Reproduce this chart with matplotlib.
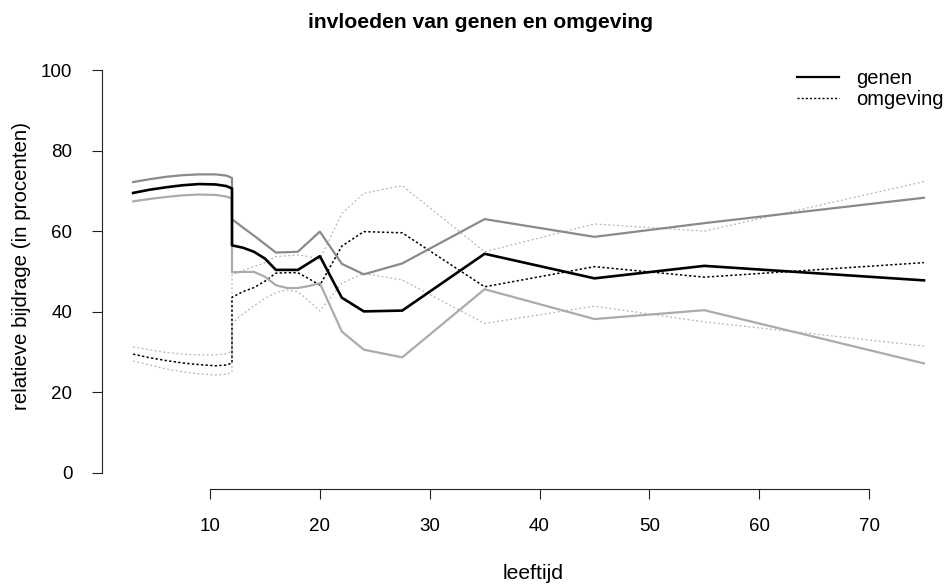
import matplotlib
matplotlib.use("Agg")
import matplotlib.pyplot as plt
from matplotlib.lines import Line2D

# ---- data ----
# age (leeftijd); first segment 3-12 (curved), then a jump at 12
leeftijd = [3, 4.5, 6, 7.5, 9, 10.5, 11.5, 12,
            12, 13, 14, 15, 16, 17, 18, 19, 20, 22, 24, 27.5, 35, 45, 55, 75]

genen = [69.5, 70.3, 70.9, 71.4, 71.7, 71.6, 71.2, 70.6,
         56.5, 55.9, 54.9, 53.2, 50.4, 50.4, 50.4, 52.1, 53.8, 43.5, 40.1, 40.3, 54.4, 48.3, 51.4, 47.8]
genen_hoog = [72.2, 72.9, 73.5, 73.9, 74.1, 74.1, 73.8, 73.2,
              63.0, 60.9, 58.9, 56.8, 54.7, 54.8, 54.9, 57.4, 59.9, 51.9, 49.3, 52.0, 63.0, 58.6, 62.0, 68.3]
genen_laag = [67.4, 68.0, 68.5, 68.9, 69.1, 69.0, 68.6, 68.1,
              49.8, 49.9, 49.9, 48.7, 46.6, 45.9, 45.9, 46.4, 47.1, 35.1, 30.6, 28.7, 45.6, 38.2, 40.4, 27.2]

omgeving = [29.5, 28.6, 27.9, 27.3, 26.9, 26.6, 26.8, 27.3,
            43.6, 45.0, 46.0, 47.6, 49.6, 49.7, 49.7, 48.2, 46.6, 56.3, 59.9, 59.6, 46.2, 51.2, 48.6, 52.2]
omgeving_hoog = [31.3, 30.6, 29.9, 29.5, 29.3, 29.3, 29.6, 30.3,
                 49.2, 50.3, 51.2, 52.2, 53.7, 53.9, 54.1, 53.7, 53.0, 64.4, 69.4, 71.3, 54.9, 61.8, 60.0, 72.3]
omgeving_laag = [27.8, 26.8, 25.8, 25.1, 24.6, 24.3, 24.5, 25.0,
                 37.2, 39.5, 41.5, 43.3, 44.8, 45.4, 45.0, 42.7, 40.2, 47.1, 49.5, 47.9, 37.1, 41.4, 37.5, 31.5]

x_ticks = [10, 20, 30, 40, 50, 60, 70]
y_ticks = [0, 20, 40, 60, 80, 100]
legend_labels = ["genen", "omgeving"]

plt.rcParams['font.family'] = ['Liberation Sans', 'DejaVu Sans']

W, H = 947, 585
fig = plt.figure(figsize=(W / 100, H / 100), dpi=100)

# plot region in pixels
left_px, right_px = 101.5, 955.6
top_px, bottom_px = 53.9, 489.1
ax = fig.add_axes([left_px / W, 1 - bottom_px / H,
                   (right_px - left_px) / W, (bottom_px - top_px) / H])
ax.set_xlim(0.12, 77.88)
ax.set_ylim(-4, 104)

dot_black = (0, (1.5, 1.5))
dot_grey = (0, (1.5, 2.0))

ax.plot(leeftijd, omgeving_hoog, color='#b4b4b4', lw=0.9, ls=dot_grey)
ax.plot(leeftijd, omgeving_laag, color='#b4b4b4', lw=0.9, ls=dot_grey)
ax.plot(leeftijd, omgeving, color='black', lw=1.1, ls=dot_black)
ax.plot(leeftijd, genen_hoog, color='#8a8a8a', lw=1.6, solid_joinstyle='round')
ax.plot(leeftijd, genen_laag, color='#ababab', lw=1.6, solid_joinstyle='round')
ax.plot(leeftijd, genen, color='black', lw=1.9, solid_joinstyle='round')

for s in ['top', 'right']:
    ax.spines[s].set_visible(False)
ax.spines['left'].set_bounds(0, 100)
ax.spines['bottom'].set_bounds(10, 70)
for s in ['left', 'bottom']:
    ax.spines[s].set_linewidth(0.8)
    ax.spines[s].set_color('#222222')
ax.set_xticks(x_ticks)
ax.set_yticks(y_ticks)
ax.set_xticklabels([str(v) for v in x_ticks])
ax.set_yticklabels([str(v) for v in y_ticks])
ax.tick_params(direction='out', length=7, width=0.8, color='#222222',
               labelsize=13.5, pad=14)

fig.text(481 / W, 1 - 27.5 / H, "invloeden van genen en omgeving",
         ha='center', va='baseline', fontsize=15.2, fontweight='bold')
fig.text(533 / W, 1 - 579 / H, "leeftijd", ha='center', va='baseline', fontsize=15.2)
fig.text(22 / W, 1 - 266 / H, "relatieve bijdrage (in procenten)",
         ha='center', va='center', rotation=90, fontsize=14.8)

handles = [Line2D([], [], color='black', lw=1.6),
           Line2D([], [], color='black', lw=1.0, ls=dot_black)]
fig.legend(handles, legend_labels, loc='upper left',
           bbox_to_anchor=(797 / W, 1 - 69 / H), frameon=False,
           fontsize=14.5, handlelength=2.08, handletextpad=0.85,
           labelspacing=0.08, borderpad=0, borderaxespad=0)

fig.savefig("out.png", dpi=100)
